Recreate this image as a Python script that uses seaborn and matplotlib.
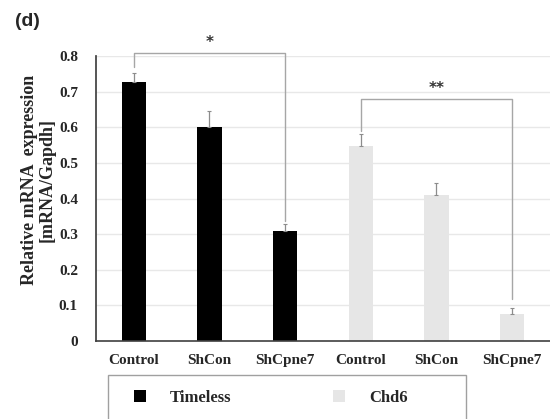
import numpy as np
import pandas as pd
import matplotlib
matplotlib.use("Agg")
import matplotlib.pyplot as plt
from matplotlib.patches import Rectangle
import seaborn as sns

# ---- data ----
groups = ["Control", "ShCon", "ShCpne7", "Control", "ShCon", "ShCpne7"]
genes = ["Timeless", "Timeless", "Timeless", "Chd6", "Chd6", "Chd6"]
means = [0.727, 0.602, 0.308, 0.548, 0.410, 0.075]
errs = [0.025, 0.043, 0.022, 0.032, 0.035, 0.018]

# significance brackets: (left bar, right bar, bar height, left leg end, right leg end, label)
brackets = [(0, 2, 0.808, 0.769, 0.338, "*"),
            (3, 5, 0.680, 0.590, 0.118, "**")]

COLORS = {"Timeless": "#000000", "Chd6": "#e6e6e6"}
SERIF = "Liberation Serif"

sns.set_theme(style="white")
plt.rcParams["font.family"] = [SERIF, "DejaVu Serif"]

df = pd.DataFrame({"pos": range(len(groups)), "gene": genes, "value": means})

fig = plt.figure(figsize=(5.5, 4.19), dpi=100)
ax = fig.add_axes([0.1745, 0.186, 0.8255, 0.68])

sns.barplot(data=df, x="pos", y="value", hue="gene", palette=COLORS,
            dodge=False, width=0.32, native_scale=True, ax=ax,
            edgecolor="none", legend=True)

ax.errorbar(df["pos"], means, yerr=[np.zeros(len(errs)), errs], fmt="none",
            ecolor="#8c8c8c", elinewidth=0.9, capsize=1.5, capthick=0.8)

for x1, x2, h, l1, l2, txt in brackets:
    ax.plot([x1, x1, x2, x2], [l1, h, h, l2], color="#a6a6a6", lw=1.0, clip_on=False)
    ax.text((x1 + x2) / 2, h + 0.008, txt, ha="center", va="bottom",
            fontsize=11, fontweight="bold", color="#333333", family="DejaVu Sans")

ax.set_ylim(0, 0.8)
ax.set_xlim(-0.5, 5.5)
ax.set_yticks(np.arange(0, 0.81, 0.1))
ax.set_yticklabels(["0"] + [f"{v:.1f}" for v in np.arange(0.1, 0.81, 0.1)],
                   fontsize=11, fontweight="bold")
ax.yaxis.grid(True, color="#e8e8e8", lw=1)
ax.set_axisbelow(True)

ax.set_xticks(np.arange(-0.5, 6, 1))
ax.set_xticklabels([])
ax.set_xticks(range(len(groups)), minor=True)
ax.set_xticklabels(groups, minor=True, fontsize=11, fontweight="bold")
ax.tick_params(axis="x", which="major", direction="out", length=5, color="#404040", width=1)
ax.tick_params(axis="x", which="minor", length=0, pad=9)
ax.tick_params(axis="y", direction="out", length=5, color="#404040", pad=8)

for side in ["top", "right"]:
    ax.spines[side].set_visible(False)
ax.spines["left"].set_color("#404040")
ax.spines["bottom"].set_color("#404040")
ax.spines["bottom"].set_linewidth(1.2)

ax.set_xlabel("")
ax.set_ylabel("Relative mRNA  expression\n[mRNA/Gapdh]", fontsize=13,
              fontweight="bold", linespacing=1.05)
ax.yaxis.set_label_coords(-0.089, 0.565)

handles, labels = ax.get_legend_handles_labels()
ax.get_legend().remove()
fig.legend(handles, labels, loc="center left", ncol=2,
           bbox_to_anchor=(134 / 550, 1 - 398 / 419),
           frameon=False, borderpad=0, borderaxespad=0,
           handlelength=0.72, handleheight=0.72, handletextpad=1.45,
           columnspacing=6.1,
           prop={"family": SERIF, "weight": "bold", "size": 12})
fig.patches.append(Rectangle((108 / 550, -0.05), (466 - 108) / 550, 0.05 + 1 - 375 / 419,
                             transform=fig.transFigure, fill=False,
                             edgecolor="#a0a0a0", lw=1.0))

fig.text(0.027, 0.949, "(d)", fontsize=14, fontweight="bold",
         family="Liberation Sans", ha="left", va="center")

fig.savefig("out.png", dpi=100)
